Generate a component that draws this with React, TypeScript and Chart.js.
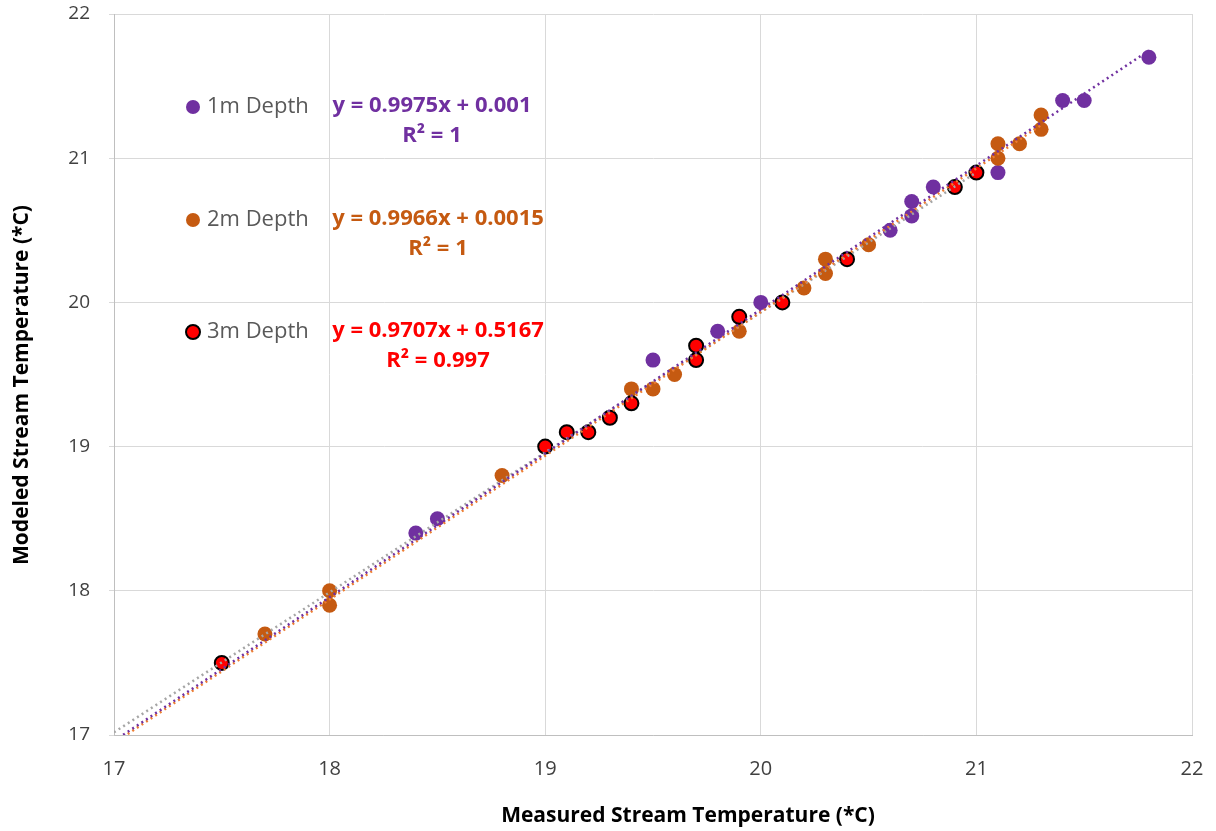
import { useEffect, useRef } from "react";
import { Chart, registerables } from "chart.js";
Chart.register(...registerables);

const x1m = [18.4, 18.5, 19.5, 19.8, 20.0, 20.6, 20.7, 20.7, 20.8, 21.1, 21.4, 21.5, 21.8];
const y1m = [18.4, 18.5, 19.6, 19.8, 20.0, 20.5, 20.6, 20.7, 20.8, 20.9, 21.4, 21.4, 21.7];
const x2m = [17.7, 18.0, 18.0, 18.8, 19.4, 19.5, 19.6, 19.9, 20.2, 20.3, 20.3, 20.5, 21.1, 21.1, 21.2, 21.3, 21.3];
const y2m = [17.7, 18.0, 17.9, 18.8, 19.4, 19.4, 19.5, 19.8, 20.1, 20.3, 20.2, 20.4, 21.0, 21.1, 21.1, 21.2, 21.3];
const x3m = [17.5, 19.0, 19.1, 19.2, 19.3, 19.4, 19.7, 19.7, 19.9, 20.1, 20.4, 20.9, 21.0];
const y3m = [17.5, 19.0, 19.1, 19.1, 19.2, 19.3, 19.7, 19.6, 19.9, 20.0, 20.3, 20.8, 20.9];

const seriesLabels = ["1m Depth", "2m Depth", "3m Depth"];
const slopes = [0.9975, 0.9966, 0.9707];
const intercepts = [0.001, 0.0015, 0.5167];
const equations = ["y = 0.9975x + 0.001", "y = 0.9966x + 0.0015", "y = 0.9707x + 0.5167"];
const r2Labels = ["R² = 1", "R² = 1", "R² = 0.997"];
const xTitle = "Measured Stream Temperature (*C)";
const yTitle = "Modeled Stream Temperature (*C)";
const axisMin = 17;
const axisMax = 22;

const markerColors = ["#7030A0", "#C55A11", "#FF0000"];
const trendColors = ["#7030A0", "#ED7D31", "#A5A5A5"];
const eqColors = ["#7030A0", "#C55A11", "#FF0000"];

const toPts = (xs: number[], ys: number[]) => xs.map((x, i) => ({ x, y: ys[i] }));
const trend = (i: number, xs: number[]) => {
  const xEnd = Math.max(...xs);
  return [axisMin, xEnd].map((x) => ({ x, y: slopes[i] * x + intercepts[i] }));
};

const overlayPlugin = {
  id: "overlay",
  afterDraw(chart: any) {
    const ctx = chart.ctx;
    ctx.save();
    // axis titles
    ctx.fillStyle = "#000";
    ctx.font = "bold 21px 'Open Sans', sans-serif";
    ctx.textAlign = "center";
    ctx.textBaseline = "middle";
    ctx.fillText(xTitle, 688, 816);
    ctx.save();
    ctx.translate(22, 385);
    ctx.rotate(-Math.PI / 2);
    ctx.fillText(yTitle, 0, 0);
    ctx.restore();

    // legend + equations
    const rows = [107, 220, 332];
    const eqX = [432, 438, 438];
    rows.forEach((ry, i) => {
      ctx.beginPath();
      ctx.arc(193, ry, 7, 0, Math.PI * 2);
      ctx.fillStyle = markerColors[i];
      ctx.fill();
      if (i === 2) {
        ctx.lineWidth = 2;
        ctx.strokeStyle = "#000";
        ctx.stroke();
      }
      ctx.fillStyle = "#595959";
      ctx.font = "22px 'Open Sans', sans-serif";
      ctx.textAlign = "left";
      ctx.textBaseline = "middle";
      ctx.fillText(seriesLabels[i], 207, ry);
      ctx.fillStyle = eqColors[i];
      ctx.font = "bold 22px 'Open Sans', sans-serif";
      ctx.textAlign = "center";
      ctx.fillText(equations[i], eqX[i], ry - 1);
      ctx.fillText(r2Labels[i], eqX[i], ry + 29);
    });
    ctx.restore();
  },
};

export default function App() {
  const ref = useRef<HTMLCanvasElement>(null);
  useEffect(() => {
    document.body.style.margin = "0";
    const chart = new Chart(ref.current!, {
      type: "scatter",
      data: {
        datasets: [
          { type: "line", data: trend(0, x1m), borderColor: trendColors[0], borderWidth: 2.5, borderDash: [2, 3.5], pointRadius: 0, fill: false, order: 0 } as any,
          { type: "line", data: trend(1, x2m), borderColor: trendColors[1], borderWidth: 2.5, borderDash: [2, 3.5], pointRadius: 0, fill: false, order: 0 } as any,
          { type: "line", data: trend(2, x3m), borderColor: trendColors[2], borderWidth: 2.5, borderDash: [2, 3.5], pointRadius: 0, fill: false, order: 0 } as any,
          { label: seriesLabels[2], data: toPts(x3m, y3m), backgroundColor: markerColors[2], borderColor: "#000", borderWidth: 2, pointRadius: 7, order: 1 },
          { label: seriesLabels[1], data: toPts(x2m, y2m), backgroundColor: markerColors[1], borderColor: markerColors[1], borderWidth: 0, pointRadius: 7.5, order: 2 },
          { label: seriesLabels[0], data: toPts(x1m, y1m), backgroundColor: markerColors[0], borderColor: markerColors[0], borderWidth: 0, pointRadius: 7.5, order: 3 },
        ],
      },
      options: {
        animation: false,
        responsive: false,
        layout: { padding: { left: 0, right: 24, top: 14, bottom: 0 } },
        plugins: { legend: { display: false }, tooltip: { enabled: false } },
        scales: {
          x: {
            type: "linear",
            min: axisMin,
            max: axisMax,
            ticks: { stepSize: 1, color: "#404040", font: { size: 20, family: "'Open Sans', sans-serif" }, padding: 22 },
            grid: { color: "#D9D9D9", lineWidth: 1, tickLength: 0 },
            border: { color: "#BFBFBF", width: 1 },
            afterFit: (s: any) => { s.height = 96; s.paddingLeft = 0; s.paddingRight = 0; },
          },
          y: {
            type: "linear",
            min: axisMin,
            max: axisMax,
            ticks: { stepSize: 1, color: "#404040", font: { size: 19, family: "'Open Sans', sans-serif" }, padding: 19 },
            grid: { color: "#D9D9D9", lineWidth: 1, tickLength: 5 },
            border: { color: "#BFBFBF", width: 1 },
            afterFit: (s: any) => { s.width = 114; s.paddingTop = 0; s.paddingBottom = 0; },
          },
        },
      },
      plugins: [overlayPlugin],
    });
    return () => chart.destroy();
  }, []);
  return (
    <div style={{ position: "fixed", left: 0, top: 0, width: 1216, height: 831, background: "#fff" }}>
      <canvas ref={ref} width={1216} height={831} style={{ width: 1216, height: 831, display: "block" }} />
    </div>
  );
}
